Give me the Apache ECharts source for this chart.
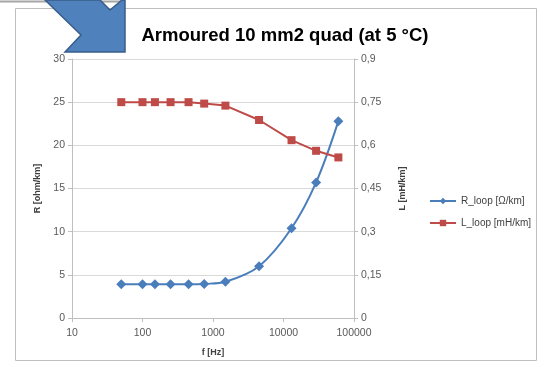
<!DOCTYPE html>
<html><head><meta charset="utf-8">
<script src="https://cdn.jsdelivr.net/npm/echarts@6/dist/echarts.min.js"></script>
<style>html,body{margin:0;padding:0;background:#fff}#c{width:544px;height:367px}</style>
</head><body><div id="c"></div>
<script>
const freq = [50, 100, 150, 250, 450, 750, 1500, 4500, 13000, 29000, 60000];
const rLoop = [3.9, 3.9, 3.9, 3.9, 3.9, 3.95, 4.2, 6.0, 10.4, 15.7, 22.8];
const lLoop = [0.75, 0.75, 0.75, 0.75, 0.75, 0.745, 0.738, 0.688, 0.618, 0.581, 0.558];
const leftTicks = [0, 5, 10, 15, 20, 25, 30];
const rightTickLabels = ['0', '0,15', '0,3', '0,45', '0,6', '0,75', '0,9'];
const title = 'Armoured 10 mm2 quad (at 5 °C)';

const font = 'Liberation Sans, Arial, sans-serif';
const chart = echarts.init(document.getElementById('c'));
chart.setOption({
  animation: false,
  title: { text: title, left: 280, top: 21, textAlign: 'center',
    textStyle: { fontFamily: font, fontSize: 18.5, fontWeight: 'bold', color: '#000' } },
  grid: { left: 72, right: 190, top: 59, bottom: 49 },
  legend: {
    orient: 'vertical', left: 424, top: 191, itemGap: 12, itemWidth: 26, itemHeight: 8,
    textStyle: { fontFamily: font, fontSize: 10, color: '#404040' },
    data: ['R_loop [Ω/km]', 'L_loop [mH/km]']
  },
  xAxis: {
    type: 'log', logBase: 10, min: 10, max: 100000,
    name: 'f [Hz]', nameLocation: 'middle', nameGap: 30,
    nameTextStyle: { fontFamily: font, fontSize: 9, fontWeight: 'bold', color: '#404040' },
    axisLine: { lineStyle: { color: '#bfbfbf' } },
    axisTick: { show: true, length: 4, lineStyle: { color: '#bfbfbf' } },
    minorTick: { show: false },
    splitLine: { show: false },
    axisLabel: { fontFamily: font, fontSize: 10.5, color: '#595959', margin: 10,
      formatter: v => String(Math.round(v)) }
  },
  yAxis: [{
    type: 'value', min: 0, max: 30, interval: 5,
    name: 'R [ohm/km]', nameLocation: 'middle', nameRotate: 90, nameGap: 28,
    nameTextStyle: { fontFamily: font, fontSize: 9, fontWeight: 'bold', color: '#404040' },
    axisLine: { show: true, lineStyle: { color: '#bfbfbf' } },
    axisTick: { show: true, length: 4, lineStyle: { color: '#bfbfbf' } },
    splitLine: { show: true, lineStyle: { color: '#d9d9d9', width: 1 } },
    axisLabel: { fontFamily: font, fontSize: 10.5, color: '#595959', margin: 7,
      formatter: v => leftTicks.includes(v) ? String(v) : '' }
  }, {
    type: 'value', min: 0, max: 0.9, interval: 0.15,
    name: 'L [mH/km]', nameLocation: 'middle', nameRotate: 90, nameGap: 44,
    nameTextStyle: { fontFamily: font, fontSize: 9, fontWeight: 'bold', color: '#404040' },
    axisLine: { show: true, lineStyle: { color: '#bfbfbf' } },
    axisTick: { show: true, length: 4, lineStyle: { color: '#bfbfbf' } },
    splitLine: { show: false },
    axisLabel: { fontFamily: font, fontSize: 10.5, color: '#595959', margin: 7,
      formatter: (v, i) => rightTickLabels[i] }
  }],
  series: [{
    name: 'R_loop [Ω/km]', type: 'line', yAxisIndex: 0, smooth: 0.35,
    data: freq.map((f, i) => [f, rLoop[i]]),
    symbol: 'diamond', symbolSize: 10,
    lineStyle: { color: '#4a7ebb', width: 2 }, itemStyle: { color: '#4a7ebb' }
  }, {
    name: 'L_loop [mH/km]', type: 'line', yAxisIndex: 1,
    data: freq.map((f, i) => [f, lLoop[i]]),
    symbol: 'rect', symbolSize: 8,
    lineStyle: { color: '#be4b48', width: 2 }, itemStyle: { color: '#be4b48' }
  }],
  graphic: [
    { type: 'rect', shape: { x: 15.5, y: 8.5, width: 521, height: 352 },
      style: { fill: 'none', stroke: '#bfbfbf', lineWidth: 1 }, z: -1 },
    { type: 'line', shape: { x1: 0, y1: 1.5, x2: 125, y2: 1.5 },
      style: { stroke: '#a6a6a6', lineWidth: 2 } },
    { type: 'polygon', z: 10,
      shape: { points: [[45, 0], [81, 35], [65, 52], [125, 52], [125, 0], [122, 0], [110, 10], [100, 0]] },
      style: { fill: '#4f81bd', stroke: '#385d8a', lineWidth: 1.5 } }
  ]
});
</script></body></html>
